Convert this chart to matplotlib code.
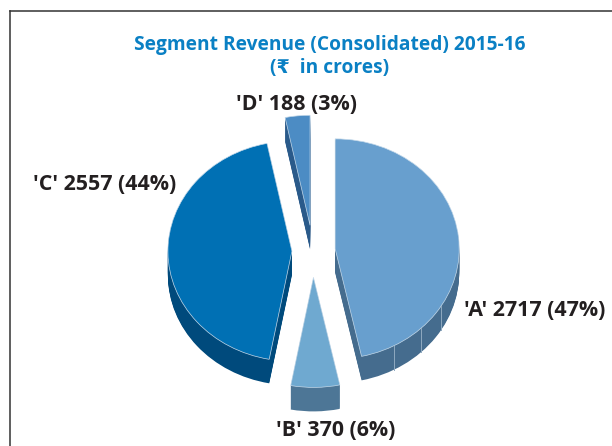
import numpy as np
import matplotlib
matplotlib.use("Agg")
import matplotlib.pyplot as plt

segments = ["A", "B", "C", "D"]
revenue = [2717, 370, 2557, 188]
percent = [47, 6, 44, 3]
explode = [0.18, 0.24, 0.17, 0.235]
top_colors = ["#689fce", "#6fa9d0", "#0070b4", "#4c8cc4"]
side_colors = ["#456c8e", "#4d7696", "#004a7c", "#2a5a8a"]
facet_angles = [121, 136, 151.6]

W, H = 612, 446
cx, cy = 313, 251   # pie centre in pixels
rx, ry = 124, 110   # squashed radius in pixels
depth = 24

plt.rcParams['font.family'] = ['Open Sans', 'DejaVu Sans']

fig = plt.figure(figsize=(W/100, H/100), dpi=100)
ax = fig.add_axes([0, 0, 1, 1])

# extruded side: stack of dark pies going down
for d in range(depth, 0, -1):
    ax.pie(revenue, explode=explode, colors=side_colors, startangle=90,
           counterclock=False, center=(0, -d/ry))

# top face
ax.pie(revenue, explode=explode, colors=top_colors, startangle=90, counterclock=False,
       wedgeprops=dict(edgecolor="#c4d9ea", linewidth=0.5))

# thin facet lines on side of A
for a in facet_angles:
    t = np.radians(a)
    off = explode[0]*np.sin(np.radians(revenue[0]/sum(revenue)*180))
    x = off + np.sin(t)
    y = explode[0]*np.cos(np.radians(revenue[0]/sum(revenue)*180)) + np.cos(t)
    ax.plot([x, x], [y, y - depth/ry], color="#8fa9c0", lw=0.7)

ax.set_aspect("auto")
ax.set_xlim(-cx/rx, (W - cx)/rx)
ax.set_ylim(-(H - cy)/ry, cy/ry)
ax.set_axis_off()

# everything else in figure pixels
def px(x, y):
    return x/W, 1 - y/H

fig.add_artist(plt.Line2D([10/W, 10/W], [0, 1 - 11/H], color="#333333", lw=1.1))
fig.add_artist(plt.Line2D([10/W, 1], [1 - 11/H, 1 - 11/H], color="#333333", lw=1.1))

title_color = "#0a80c4"
fig.text(*px(330, 45), "Segment Revenue (Consolidated) 2015-16", color=title_color,
         fontsize=13.8, fontweight="bold", ha="center", va="center")
fig.text(*px(330, 68), "(\u20b9  in crores)", color=title_color,
         fontsize=13.8, fontweight="bold", ha="center", va="center")

label_pos = [(535, 310), (336, 430), (105, 184), (297, 104)]
for s, v, p, pos in zip(segments, revenue, percent, label_pos):
    fig.text(*px(*pos), f"'{s}' {v} ({p}%)", color="#231f20", fontsize=15.4,
             fontweight="bold", ha="center", va="center")

fig.savefig("out.png", dpi=100)
